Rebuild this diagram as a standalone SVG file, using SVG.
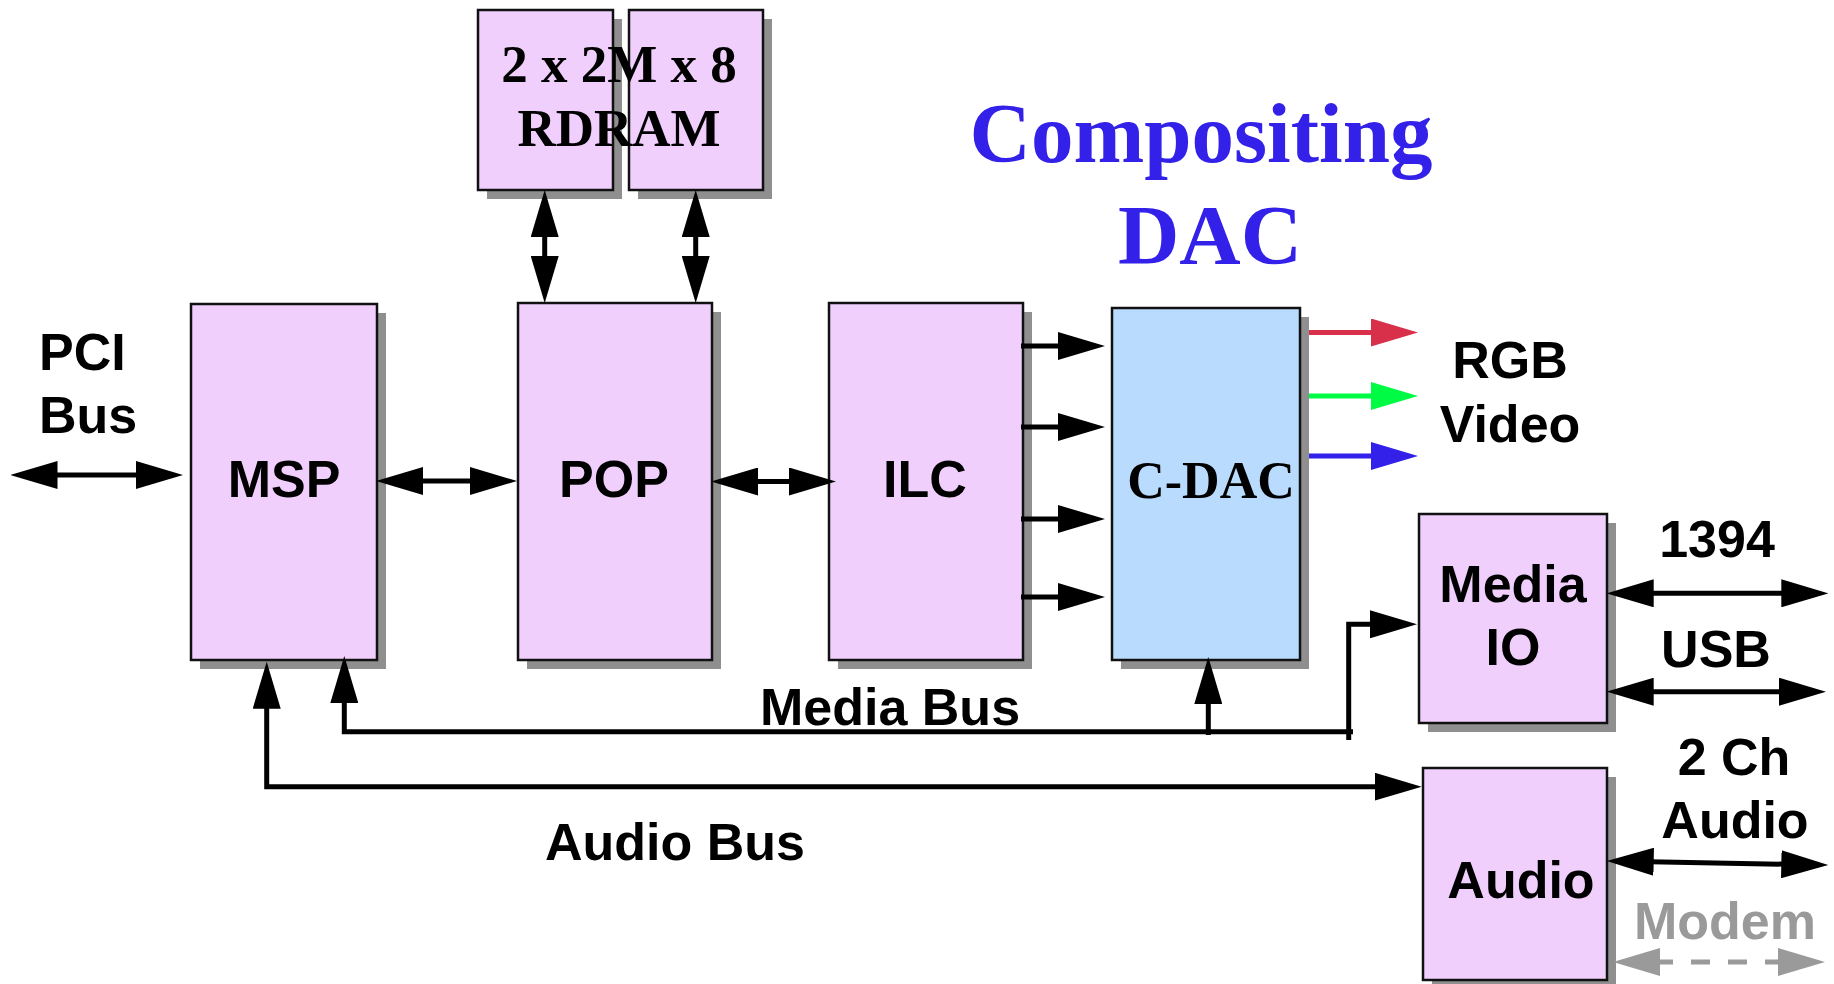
<svg xmlns="http://www.w3.org/2000/svg" width="1834" height="984" viewBox="0 0 1834 984">
<style>
.box{fill:#f1cffd;stroke:#111;stroke-width:2.5}
.blue{fill:#b9dbfd}
.sh{fill:#8f8f8f}
.lbl{font-family:"Liberation Sans",Arial,sans-serif;font-weight:bold;font-size:52px;fill:#000}
.ser{font-family:"Liberation Serif","Times New Roman",serif;font-weight:bold;fill:#000}
.title{font-family:"Liberation Serif","Times New Roman",serif;font-weight:bold;font-size:85px;fill:#3321ea}
.c{text-anchor:middle}
.ln{fill:none;stroke:#000;stroke-width:5}
.ar{marker-start:url(#ah);marker-end:url(#ah)}
.ae{marker-end:url(#ah)}
</style>
<defs>
<marker id="ah" viewBox="0 0 47 28" markerWidth="47" markerHeight="28" markerUnits="userSpaceOnUse" refX="17" refY="14" orient="auto-start-reverse"><path d="M0,0 L47,14 L0,28 z" fill="#000"/></marker>
<marker id="ahr" viewBox="0 0 47 28" markerWidth="47" markerHeight="28" markerUnits="userSpaceOnUse" refX="17" refY="14" orient="auto-start-reverse"><path d="M0,0 L47,14 L0,28 z" fill="#d8304a"/></marker>
<marker id="ahg" viewBox="0 0 47 28" markerWidth="47" markerHeight="28" markerUnits="userSpaceOnUse" refX="17" refY="14" orient="auto-start-reverse"><path d="M0,0 L47,14 L0,28 z" fill="#00fb45"/></marker>
<marker id="ahb" viewBox="0 0 47 28" markerWidth="47" markerHeight="28" markerUnits="userSpaceOnUse" refX="17" refY="14" orient="auto-start-reverse"><path d="M0,0 L47,14 L0,28 z" fill="#3321ea"/></marker>
<marker id="ahy" viewBox="0 0 47 28" markerWidth="47" markerHeight="28" markerUnits="userSpaceOnUse" refX="17" refY="14" orient="auto-start-reverse"><path d="M0,0 L47,14 L0,28 z" fill="#9a9a9a"/></marker>
</defs>

<g id="rdram1">
<rect class="sh" x="487" y="19" width="135" height="180"/>
<rect class="box" x="478" y="10" width="135" height="180"/>
</g>
<g id="rdram2">
<rect class="sh" x="638" y="19" width="134" height="180"/>
<rect class="box" x="629" y="10" width="134" height="180"/>
</g>
<g id="rdram-label">
<text class="ser c" font-size="53" x="619" y="82">2 x 2M x 8</text>
<text class="ser c" font-size="53" x="619" y="146">RDRAM</text>
</g>

<g id="title">
<text class="title c" x="1201" y="162">Compositing</text>
<text class="title c" x="1210" y="264">DAC</text>
</g>

<g id="msp">
<rect class="sh" x="200" y="313" width="186" height="356"/>
<rect class="box" x="191" y="304" width="186" height="356"/>
<text class="lbl c" x="284" y="497">MSP</text>
</g>
<g id="pop">
<rect class="sh" x="527" y="312" width="194" height="357"/>
<rect class="box" x="518" y="303" width="194" height="357"/>
<text class="lbl c" x="614" y="497">POP</text>
</g>
<g id="ilc">
<rect class="sh" x="838" y="312" width="194" height="357"/>
<rect class="box" x="829" y="303" width="194" height="357"/>
<text class="lbl c" x="925" y="497">ILC</text>
</g>
<g id="cdac">
<rect class="sh" x="1121" y="317" width="188" height="352"/>
<rect class="box blue" x="1112" y="308" width="188" height="352"/>
<text class="ser c" font-size="52" x="1211" y="498">C-DAC</text>
</g>
<g id="mediaio">
<rect class="sh" x="1428" y="523" width="188" height="209"/>
<rect class="box" x="1419" y="514" width="188" height="209"/>
<text class="lbl c" x="1513" y="602">Media</text>
<text class="lbl c" x="1513" y="665">IO</text>
</g>
<g id="audio">
<rect class="sh" x="1432" y="777" width="184" height="212"/>
<rect class="box" x="1423" y="768" width="184" height="212"/>
<text class="lbl c" x="1521" y="898">Audio</text>
</g>

<g id="connectors">
<line class="ln ar" x1="40.5" y1="475" x2="153" y2="475"/>
<line class="ln ar" x1="406" y1="481" x2="487" y2="481"/>
<line class="ln ar" x1="741" y1="481.5" x2="806" y2="481.5"/>
<line class="ln ar" x1="544.7" y1="220" x2="544.7" y2="273"/>
<line class="ln ar" x1="695.7" y1="220" x2="695.7" y2="273"/>
<line class="ln ae" x1="1021" y1="346" x2="1075" y2="346"/>
<line class="ln ae" x1="1021" y1="427" x2="1075" y2="427"/>
<line class="ln ae" x1="1021" y1="519" x2="1075" y2="519"/>
<line class="ln ae" x1="1021" y1="597" x2="1075" y2="597"/>
<line fill="none" stroke="#d8304a" stroke-width="5" marker-end="url(#ahr)" x1="1309" y1="332.5" x2="1388" y2="332.5"/>
<line fill="none" stroke="#00fb45" stroke-width="5" marker-end="url(#ahg)" x1="1309" y1="396" x2="1388" y2="396"/>
<line fill="none" stroke="#3321ea" stroke-width="5" marker-end="url(#ahb)" x1="1309" y1="456" x2="1388" y2="456"/>
<path class="ln" style="marker-start:url(#ah)" d="M344.3,686 V731.7 H1353"/>
<line class="ln ae" x1="1208.3" y1="735" x2="1208.3" y2="687"/>
<path class="ln ae" d="M1348.7,740 V624.3 H1387"/>
<path class="ln ar" d="M266.7,691.7 V786.7 H1391.7"/>
<line class="ln ar" x1="1636.7" y1="593.3" x2="1798.3" y2="593.3"/>
<line class="ln ar" x1="1636.7" y1="691.7" x2="1796" y2="691.7"/>
<line class="ln ar" x1="1636.7" y1="861.5" x2="1798.3" y2="864.5"/>
<line fill="none" stroke="#9a9a9a" stroke-width="5" stroke-dasharray="30 18 19 18 19 18 30" marker-start="url(#ahy)" marker-end="url(#ahy)" x1="1643" y1="962" x2="1795" y2="962"/>
</g>

<g id="labels">
<text class="lbl" x="39" y="370">PCI</text>
<text class="lbl" x="39" y="433">Bus</text>
<text class="lbl c" x="1510" y="378">RGB</text>
<text class="lbl c" x="1510" y="442">Video</text>
<text class="lbl c" x="1717" y="557">1394</text>
<text class="lbl c" x="1716" y="667">USB</text>
<text class="lbl c" x="1734" y="775">2 Ch</text>
<text class="lbl c" x="1735" y="838">Audio</text>
<text class="lbl c" x="1725" y="939" fill="#9a9a9a" style="fill:#9a9a9a">Modem</text>
<text class="lbl" x="760" y="725">Media Bus</text>
<text class="lbl" x="545" y="860">Audio Bus</text>
</g>
</svg>
